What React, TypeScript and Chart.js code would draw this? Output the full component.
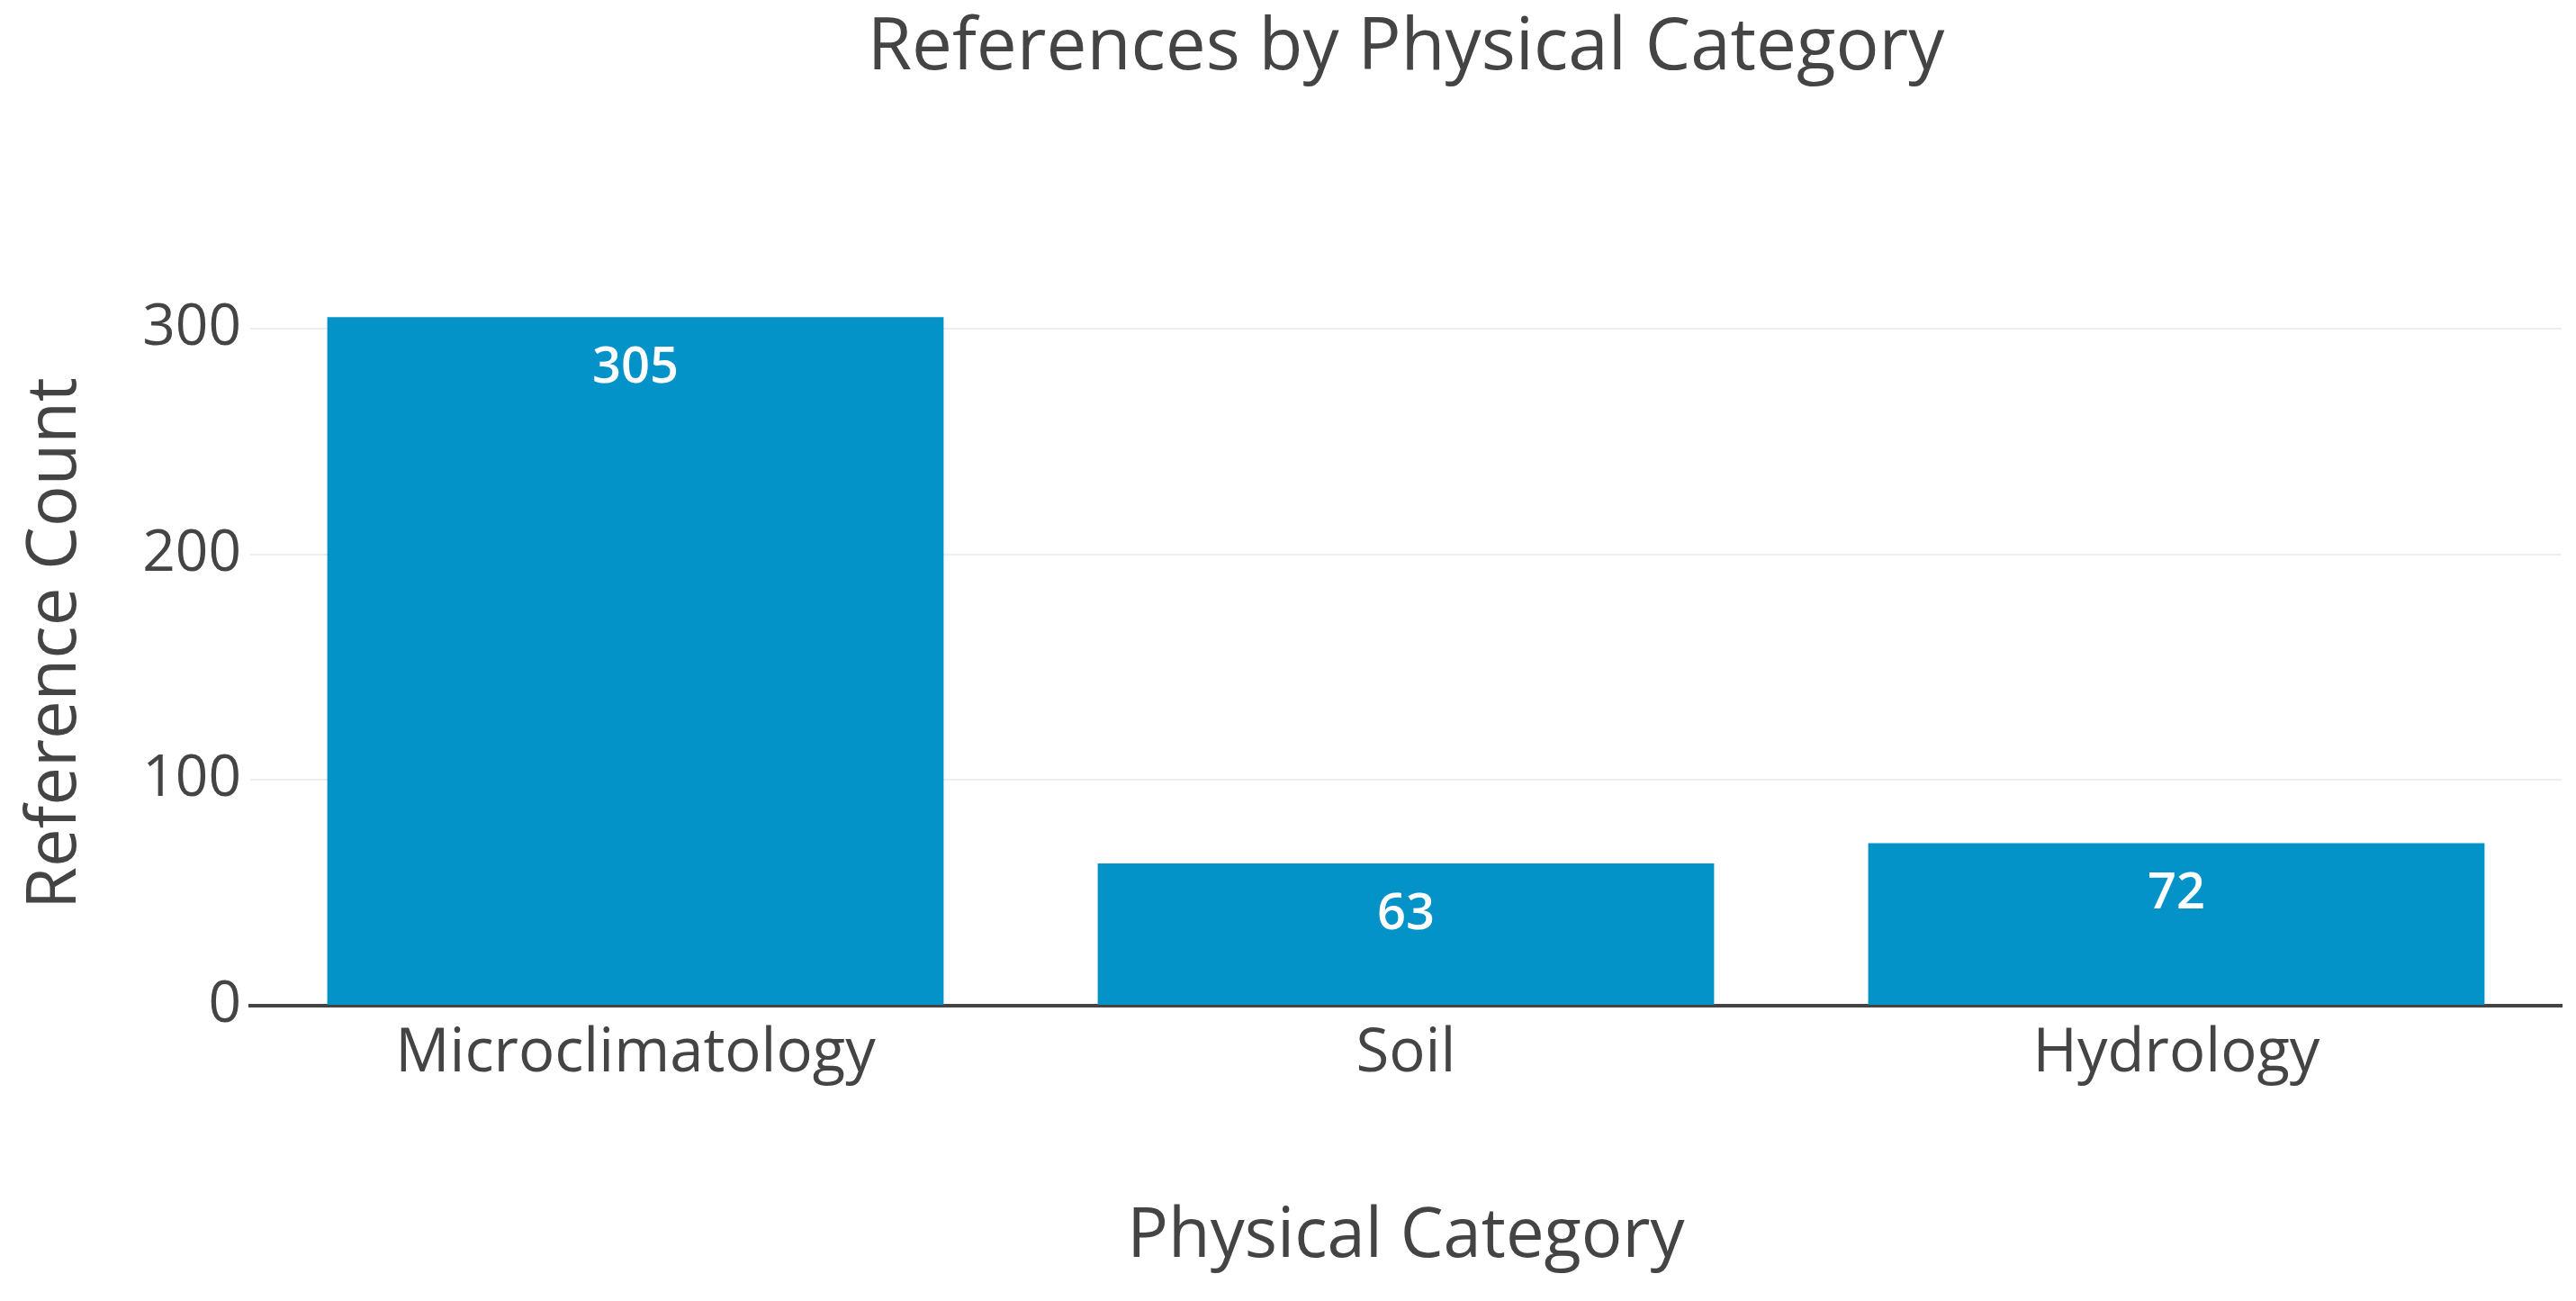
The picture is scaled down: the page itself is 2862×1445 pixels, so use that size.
import React, { useEffect, useRef } from "react";
import { Chart, registerables } from "chart.js";

Chart.register(...registerables);

const categories = ["Microclimatology", "Soil", "Hydrology"];
const referenceCounts = [305, 63, 72];
const yTickValues = [0, 100, 200, 300];
const chartTitle = "References by Physical Category";
const xAxisTitle = "Physical Category";
const yAxisTitle = "Reference Count";

const W = 2862;
const H = 1445;
const FONT = '"Open Sans", sans-serif';
const TEXT = "#444444";
const BAR = "#0393C9";

export default function App() {
  const ref = useRef<HTMLCanvasElement>(null);

  useEffect(() => {
    let chart: any = null;
    let cancelled = false;

    const make = () => {
      if (cancelled || !ref.current) return;
      const textPlugin = {
        id: "textPlugin",
        afterDatasetsDraw(c: any) {
          const ctx = c.ctx;
          const meta = c.getDatasetMeta(0);
          ctx.save();
          ctx.fillStyle = "#ffffff";
          ctx.font = `600 56px ${FONT}`;
          ctx.textAlign = "center";
          ctx.textBaseline = "alphabetic";
          meta.data.forEach((el: any, i: number) => {
            ctx.fillText(String(referenceCounts[i]), el.x, el.y + 73);
          });
          ctx.restore();
        },
        afterDraw(c: any) {
          const ctx = c.ctx;
          const a = c.chartArea;
          const cx = (a.left + a.right) / 2;
          ctx.save();
          ctx.fillStyle = TEXT;
          ctx.textAlign = "center";
          ctx.textBaseline = "alphabetic";
          ctx.font = `80px ${FONT}`;
          ctx.fillText(chartTitle, cx, 77);
          ctx.font = `76px ${FONT}`;
          ctx.fillText(xAxisTitle, cx, 1396);
          ctx.translate(84, (a.top + a.bottom) / 2);
          ctx.rotate(-Math.PI / 2);
          ctx.fillText(yAxisTitle, 0, 0);
          ctx.restore();
        },
      };

      chart = new Chart(ref.current, {
        type: "bar",
        data: {
          labels: categories,
          datasets: [
            {
              label: yAxisTitle,
              data: referenceCounts,
              backgroundColor: BAR,
              borderWidth: 0,
              categoryPercentage: 0.8,
              barPercentage: 1.0,
            },
          ],
        },
        options: {
          responsive: false,
          animation: false,
          devicePixelRatio: 1,
          layout: { padding: { top: 312, right: 16, left: 0, bottom: 0 } },
          plugins: {
            legend: { display: false },
            title: { display: false },
            tooltip: { enabled: false },
          },
          scales: {
            x: {
              z: 1,
              grid: { display: false, drawTicks: false },
              border: { display: true, color: "#444444", width: 4 },
              ticks: {
                color: TEXT,
                font: { family: FONT, size: 67 },
                padding: 14,
                maxRotation: 0,
                autoSkip: false,
              },
              afterFit: (s: any) => {
                s.height = H - 1117;
              },
            },
            y: {
              min: 0,
              max: 321.05,
              grid: {
                drawTicks: false,
                lineWidth: 2,
                color: (ctx: any) =>
                  ctx.tick && ctx.tick.value === 0 ? "rgba(0,0,0,0)" : "#eeeeee",
              },
              border: { display: false },
              ticks: {
                color: TEXT,
                font: { family: FONT, size: 64 },
                padding: 10,
                stepSize: 100,
              },
              afterBuildTicks: (s: any) => {
                s.ticks = yTickValues.map((v) => ({ value: v }));
              },
              afterFit: (s: any) => {
                s.width = 278;
              },
            },
          },
        },
        plugins: [textPlugin],
      });
    };

    const fontsReady = (document as any).fonts
      ? Promise.all([
          (document as any).fonts.load(`64px ${FONT}`),
          (document as any).fonts.load(`600 56px ${FONT}`),
        ]).catch(() => null)
      : Promise.resolve(null);
    fontsReady.then(make);

    return () => {
      cancelled = true;
      if (chart) chart.destroy();
    };
  }, []);

  return (
    <div style={{ position: "fixed", left: 0, top: 0, width: W, height: H, background: "#ffffff" }}>
      <canvas ref={ref} width={W} height={H} style={{ width: W, height: H, display: "block" }} />
    </div>
  );
}
